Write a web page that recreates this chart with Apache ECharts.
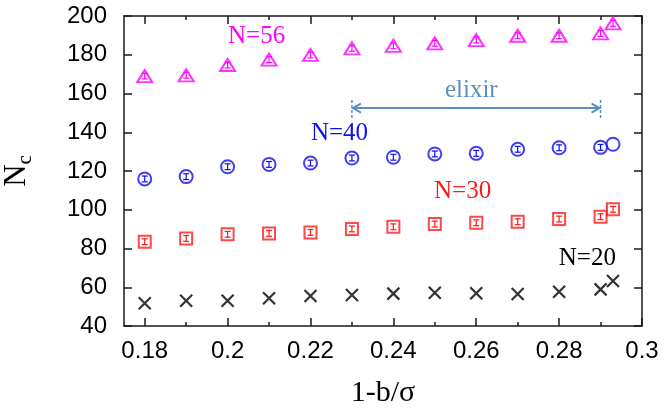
<!DOCTYPE html>
<html>
<head>
<meta charset="utf-8">
<script src="https://cdn.jsdelivr.net/npm/echarts@6/dist/echarts.min.js"></script>
<style>html,body{margin:0;padding:0;background:#fff}#c{width:665px;height:409px}</style>
</head>
<body>
<div id="c"></div>
<script>
// ---- data ----
const xValues = [0.18, 0.19, 0.20, 0.21, 0.22, 0.23, 0.24, 0.25, 0.26, 0.27, 0.28, 0.29, 0.293];
const nc56 = [169.0, 169.4, 174.7, 177.5, 179.9, 183.3, 184.6, 185.9, 187.6, 189.8, 189.8, 191.0, 196.2];
const nc40 = [115.9, 117.1, 122.2, 123.4, 124.1, 126.7, 127.1, 128.8, 129.1, 131.2, 132.0, 132.2, 133.8];
const nc30 = [83.5, 85.2, 87.3, 87.8, 88.3, 90.1, 91.2, 92.6, 93.3, 93.8, 95.2, 96.4, 100.2];
const nc20 = [51.7, 53.0, 53.0, 54.3, 55.5, 56.0, 56.7, 57.2, 56.9, 56.5, 57.7, 58.9, 63.2];
const err56 = [1.5, 1.5, 1.5, 1.5, 1.5, 1.5, 1.5, 1.5, 1.5, 1.5, 1.5, 1.5, 1.5];
const err40 = [1.5, 1.5, 1.5, 1.5, 1.5, 1.5, 1.5, 1.5, 1.5, 1.5, 1.5, 1.5, 0];
const err30 = [1.5, 1.5, 1.5, 1.5, 1.5, 1.5, 1.5, 1.5, 1.5, 1.5, 1.5, 1.5, 1.5];
const xMajorTicks = [0.18, 0.20, 0.22, 0.24, 0.26, 0.28, 0.30];
const xMinorTicks = [0.19, 0.21, 0.23, 0.25, 0.27, 0.29];
const yTicks = [40, 60, 80, 100, 120, 140, 160, 180, 200];
const labelTexts = ['N=56', 'N=40', 'N=30', 'N=20', 'elixir'];
const labelX = [0.207, 0.227, 0.2567, 0.2868, 0.2588];
const labelY = [189.3, 139.5, 109.3, 75.0, 161.8];
const elixirRange = [0.23, 0.29];
const elixirY = 152.5;
const elixirTickSpan = [147.4, 156.6];

// ---- styles ----
const labelColors = ['#ff00ff', '#1010ee', '#ff1a1a', '#000000', '#5b8ec6'];
const serif = '"Liberation Serif", "DejaVu Serif", serif';
const sans = '"Liberation Sans", Arial, sans-serif';

function pts(ys) { return xValues.map((x, i) => [x, ys[i]]); }
function errPts(ys, es) { return xValues.map((x, i) => [x, ys[i], es[i]]); }

function errRender(color) {
  return function (params, api) {
    const x = api.value(0), y = api.value(1), e = api.value(2);
    if (!e) return null;
    const lo = api.coord([x, y - e]), hi = api.coord([x, y + e]);
    const cw = 3;
    const st = { stroke: color, lineWidth: 1.2 };
    return { type: 'group', children: [
      { type: 'line', shape: { x1: lo[0], y1: lo[1], x2: hi[0], y2: hi[1] }, style: st },
      { type: 'line', shape: { x1: lo[0] - cw, y1: lo[1], x2: lo[0] + cw, y2: lo[1] }, style: st },
      { type: 'line', shape: { x1: hi[0] - cw, y1: hi[1], x2: hi[0] + cw, y2: hi[1] }, style: st }
    ]};
  };
}

function scatter(name, ys, symbol, size, color, bw) {
  return {
    name, type: 'scatter', data: pts(ys), symbol, symbolSize: size,
    itemStyle: { color: 'rgba(0,0,0,0)', borderColor: color, borderWidth: bw || 2 },
    silent: true, z: 3
  };
}
function errSeries(ys, es, color) {
  return { type: 'custom', data: errPts(ys, es), renderItem: errRender(color), silent: true, z: 2 };
}

const arrowColor = '#5b8ec6';
const arrowSeries = {
  type: 'custom', silent: true, z: 4,
  data: [[elixirRange[0], elixirRange[1], elixirY, elixirTickSpan[0], elixirTickSpan[1]]],
  renderItem: function (params, api) {
    const a = api.coord([api.value(0), api.value(2)]);
    const b = api.coord([api.value(1), api.value(2)]);
    const t0 = api.coord([api.value(0), api.value(3)]), t1 = api.coord([api.value(0), api.value(4)]);
    const u0 = api.coord([api.value(1), api.value(3)]), u1 = api.coord([api.value(1), api.value(4)]);
    const st = { stroke: arrowColor, lineWidth: 2, fill: null };
    const dash = { stroke: arrowColor, lineWidth: 1.5, lineDash: [3, 2], fill: null };
    const ah = 9, aw = 4.5;
    return { type: 'group', children: [
      { type: 'line', shape: { x1: a[0], y1: a[1], x2: b[0], y2: b[1] }, style: st },
      { type: 'polyline', shape: { points: [[a[0] + ah, a[1] - aw], [a[0] + 1, a[1]], [a[0] + ah, a[1] + aw]] }, style: st },
      { type: 'polyline', shape: { points: [[b[0] - ah, b[1] - aw], [b[0] - 1, b[1]], [b[0] - ah, b[1] + aw]] }, style: st },
      { type: 'line', shape: { x1: t0[0], y1: t0[1], x2: t1[0], y2: t1[1] }, style: dash },
      { type: 'line', shape: { x1: u0[0], y1: u0[1], x2: u1[0], y2: u1[1] }, style: dash }
    ]};
  }
};

const textSeries = {
  type: 'custom', silent: true, z: 5,
  data: labelTexts.map((t, i) => [labelX[i], labelY[i], i]),
  renderItem: function (params, api) {
    const p = api.coord([api.value(0), api.value(1)]);
    const i = api.value(2);
    return { type: 'text', x: p[0], y: p[1], style: {
      text: labelTexts[i], fill: labelColors[i], font: '25px ' + serif,
      align: 'center', verticalAlign: 'middle'
    }};
  }
};

const axisLine = { show: true, lineStyle: { color: '#1a1a1a', width: 1.5 } };
const tickStyle = { color: '#1a1a1a', width: 1.5 };
const fmtX = v => String(Math.round(v * 100) / 100);

const option = {
  animation: false,
  backgroundColor: '#ffffff',
  grid: { left: 124, right: 23, top: 16, bottom: 83, containLabel: false, outerBoundsMode: 'none' },
  xAxis: [
    { type: 'value', min: 0.175, max: 0.3, position: 'bottom',
      axisLine, splitLine: { show: false },
      axisTick: { show: true, inside: true, length: 8, lineStyle: tickStyle, customValues: xMajorTicks },
      axisLabel: { show: true, customValues: xMajorTicks, formatter: fmtX, color: '#000', fontSize: 24, fontFamily: sans, margin: 13 },
      name: '1-b/σ', nameLocation: 'middle', nameGap: 52,
      nameTextStyle: { fontFamily: serif, fontSize: 30, color: '#000' } },
    { type: 'value', min: 0.175, max: 0.3, position: 'bottom',
      axisLine: { show: false }, splitLine: { show: false }, axisLabel: { show: false },
      axisTick: { show: true, inside: true, length: 4, lineStyle: tickStyle, customValues: xMinorTicks } },
    { type: 'value', min: 0.175, max: 0.3, position: 'top',
      axisLine, splitLine: { show: false }, axisLabel: { show: false },
      axisTick: { show: true, inside: true, length: 8, lineStyle: tickStyle, customValues: xMajorTicks } },
    { type: 'value', min: 0.175, max: 0.3, position: 'top',
      axisLine: { show: false }, splitLine: { show: false }, axisLabel: { show: false },
      axisTick: { show: true, inside: true, length: 4, lineStyle: tickStyle, customValues: xMinorTicks } }
  ],
  yAxis: [
    { type: 'value', min: 40, max: 200, interval: 20, position: 'left',
      axisLine, splitLine: { show: false },
      axisTick: { show: true, inside: true, length: 8, lineStyle: tickStyle, customValues: yTicks },
      axisLabel: { show: true, customValues: yTicks, color: '#000', fontSize: 24, fontFamily: sans, margin: 17 },
      name: '{n|N}{c|c}', nameLocation: 'middle', nameGap: 92, nameRotate: 90,
      nameTextStyle: { rich: {
        n: { fontFamily: serif, fontSize: 31, color: '#000', lineHeight: 31, verticalAlign: 'top' },
        c: { fontFamily: serif, fontSize: 21, color: '#000', lineHeight: 21, padding: [17, 0, 0, 0] }
      } } },
    { type: 'value', min: 40, max: 200, interval: 20, position: 'right',
      axisLine, splitLine: { show: false }, axisLabel: { show: false },
      axisTick: { show: true, inside: true, length: 8, lineStyle: tickStyle, customValues: yTicks } }
  ],
  series: [
    errSeries(nc56, err56, '#ff00ff'),
    errSeries(nc40, err40, '#1010ee'),
    errSeries(nc30, err30, '#ff1a1a'),
    scatter('N=56', nc56, 'triangle', [15, 12], '#ff00ff'),
    scatter('N=40', nc40, 'circle', 13, '#1010ee'),
    scatter('N=30', nc30, 'rect', 12, '#ff1a1a'),
    scatter('N=20', nc20, 'path://M0,0L10,10M10,0L0,10', 12, '#000000', 2.2),
    arrowSeries,
    textSeries
  ]
};

const chart = echarts.init(document.getElementById('c'), null, { renderer: 'canvas' });
chart.setOption(option);
</script>
</body>
</html>
